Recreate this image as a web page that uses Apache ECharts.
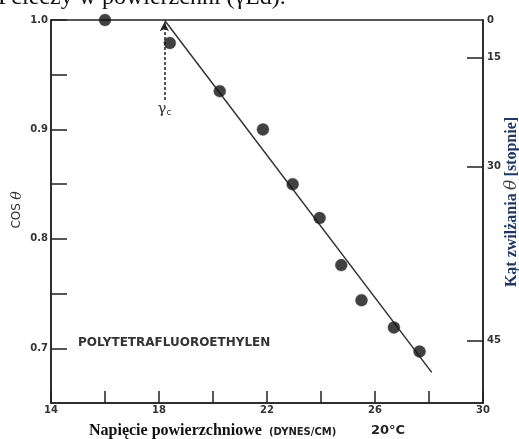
<!DOCTYPE html>
<html>
<head>
<meta charset="utf-8">
<script src="https://cdn.jsdelivr.net/npm/echarts@6/dist/echarts.min.js"></script>
<style>html,body{margin:0;padding:0;background:#fff}#c{width:519px;height:439px}</style>
</head>
<body>
<div id="c"></div>
<script>
// ---- data ----
const surfaceTension = [16.0, 18.4, 20.25, 21.85, 22.95, 23.95, 24.75, 25.5, 26.7, 27.65];
const cosTheta       = [1.0, 0.979, 0.935, 0.900, 0.850, 0.819, 0.776, 0.744, 0.719, 0.697];
const fitLineX = [18.2, 28.1];
const fitLineY = [1.0, 0.678];
const gammaC = 18.2;
const gammaArrowY = [0.927, 0.998];
const xTickLabels = [14, 18, 22, 26, 30];
const cosTickLabels = [0.7, 0.8, 0.9, 1.0];
const cosTicks = [0.7, 0.75, 0.8, 0.85, 0.9, 0.95, 1.0];
const angleTickLabels = [0, 15, 30, 45];

const angleCos = angleTickLabels.map(d => d === 0 ? 1 : Math.cos(d * Math.PI / 180));
const chart = echarts.init(document.getElementById('c'));
const axisCol = '#222';
const labelFont = { fontFamily: 'DejaVu Sans', fontWeight: 'bold', fontSize: 10, color: '#333' };

chart.setOption({
  animation: false,
  backgroundColor: '#fff',
  grid: { left: 51, right: 36, top: 20, bottom: 36, containLabel: false, outerBoundsMode: 'none', show: true, borderColor: axisCol, borderWidth: 1.5, backgroundColor: 'transparent' },
  xAxis: {
    type: 'value', min: 14, max: 30, interval: 2,
    axisLine: { show: true, lineStyle: { color: axisCol, width: 1.5 } },
    axisTick: { show: true, inside: true, length: 12, lineStyle: { color: axisCol, width: 1.5 } },
    axisLabel: Object.assign({ margin: 2, customValues: xTickLabels, formatter: v => String(v) }, labelFont),
    splitLine: { show: false }
  },
  yAxis: [{
    type: 'value', min: 0.65, max: 1.0,
    axisLine: { show: true, lineStyle: { color: axisCol, width: 1.5 } },
    axisTick: { show: true, inside: true, length: 16, customValues: cosTicks, lineStyle: { color: axisCol, width: 1.5 } },
    axisLabel: Object.assign({ margin: 3, customValues: cosTickLabels, formatter: v => v.toFixed(1) }, labelFont),
    splitLine: { show: false }
  }, {
    type: 'value', min: 0.65, max: 1.0, position: 'right',
    axisLine: { show: true, lineStyle: { color: axisCol, width: 1.5 } },
    axisTick: { show: true, inside: true, length: 16, customValues: angleCos.slice(1), lineStyle: { color: axisCol, width: 1.5 } },
    axisLabel: Object.assign({ margin: 4, customValues: angleCos, formatter: v => String(Math.round(Math.acos(Math.min(1, v)) * 180 / Math.PI)) }, labelFont),
    splitLine: { show: false }
  }],
  series: [{
    type: 'line', yAxisIndex: 0,
    data: fitLineX.map((x, i) => [x, fitLineY[i]]),
    symbol: 'none', lineStyle: { color: '#333', width: 1.5 }, z: 2,
    markLine: {
      silent: true, symbol: ['none', 'arrow'], symbolSize: [7, 9],
      lineStyle: { color: '#222', type: [3, 2], width: 1.5 },
      label: { show: false },
      data: [[{ coord: [gammaC, gammaArrowY[0]] }, { coord: [gammaC, gammaArrowY[1]] }]]
    },
    markPoint: {
      symbol: 'circle', symbolSize: 0,
      label: { show: true, position: 'bottom', distance: 2, formatter: '{g|γ}{s|c}', rich: { g: { fontFamily: 'DejaVu Serif', fontSize: 15, color: '#333' }, s: { fontFamily: 'DejaVu Sans', fontSize: 9, color: '#333', verticalAlign: 'bottom', padding: [6, 0, 0, 0] } } },
      data: [{ coord: [gammaC, gammaArrowY[0]] }]
    }
  }, {
    type: 'scatter', yAxisIndex: 0,
    data: surfaceTension.map((x, i) => [x, cosTheta[i]]),
    symbol: 'circle', symbolSize: 12,
    itemStyle: { color: '#111', borderColor: '#444', borderWidth: 0.5 }, z: 5
  }],
  graphic: [
    { type: 'text', x: 17, y: 210, rotation: Math.PI / 2,
      style: { text: '{a|COS} {t|θ}', align: 'center', verticalAlign: 'middle',
        rich: { a: { fontFamily: 'DejaVu Sans', fontSize: 12, fill: '#333' }, t: { fontFamily: 'DejaVu Serif', fontStyle: 'italic', fontSize: 14, fill: '#333' } } } },
    { type: 'text', x: 512, y: 202, rotation: Math.PI / 2,
      style: { text: '{n|Kąt zwilżania} {t|θ} {n|[stopnie]}', align: 'center', verticalAlign: 'middle',
        rich: { n: { fontFamily: 'Liberation Serif', fontWeight: 'bold', fontSize: 16, fill: '#1F3864' }, t: { fontFamily: 'DejaVu Serif', fontStyle: 'italic', fontSize: 17, fill: '#444' } } } },
    { type: 'text', left: 78, top: 337, style: { text: 'POLYTETRAFLUOROETHYLEN', font: 'bold 12px "DejaVu Sans"', fill: '#333' } },
    { type: 'text', left: 89, top: 423, style: { text: 'Napięcie powierzchniowe', font: 'bold 16px "Liberation Serif"', fill: '#111' } },
    { type: 'text', left: 269, top: 427, style: { text: '(DYNES/CM)', font: 'bold 10px "DejaVu Sans"', fill: '#222' } },
    { type: 'text', left: 371, top: 424, style: { text: '20°C', font: 'bold 13px "DejaVu Sans"', fill: '#222' } },
    { type: 'text', left: -2, top: -14, style: { text: 'Pcieczy w powierzchni (γLd).', font: '24px "Liberation Serif"', fill: '#111' } }
  ]
});
</script>
</body>
</html>
